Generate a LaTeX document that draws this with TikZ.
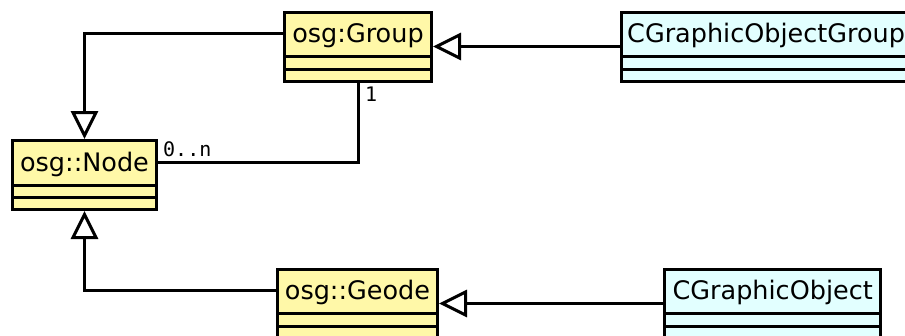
\documentclass[tikz,border=0pt]{standalone}
\usepackage{fontspec}
\setmainfont{DejaVu Sans}
\newfontfamily\umlmono{DejaVu Sans Mono}
\usetikzlibrary{arrows.meta,calc}
\definecolor{clsyellow}{RGB}{255,248,168}
\definecolor{clscyan}{RGB}{226,255,255}
\begin{document}
\begin{tikzpicture}[x=1pt,y=-1pt,
  cls/.style={draw=black, line width=3pt, inner sep=0pt},
  ttl/.style={inner sep=0pt, font=\fontsize{25.5}{30}\selectfont},
  sep/.style={line width=3pt},
  gen/.style={line width=3pt, -{Triangle[fill=white, length=28pt, width=27pt, line width=3pt]}},
  assoc/.style={line width=3pt},
  mult/.style={inner sep=0pt, font=\umlmono\fontsize{20}{24}\selectfont}]
\path[use as bounding box, clip] (0,0) rectangle (905,335);

% classes
\node[cls, fill=clsyellow, minimum width=147pt, minimum height=69pt] (group) at (358,46.5) {};
\node[cls, fill=clscyan, minimum width=292pt, minimum height=69pt] (cgog) at (767.5,46.5) {};
\node[cls, fill=clsyellow, minimum width=144pt, minimum height=69pt] (node) at (84.5,175) {};
\node[cls, fill=clsyellow, minimum width=160pt, minimum height=69pt] (geode) at (357.5,303.5) {};
\node[cls, fill=clscyan, minimum width=216pt, minimum height=69pt] (cgo) at (772.7,303.5) {};

% titles
\node[ttl, anchor=base] (groupT) at ($(group.north)+(0,32)$) {osg:Group};
\node[ttl, anchor=base west] (cgogT) at ($(cgog.north west)+(7,32)$) {CGraphicObjectGroup};
\node[ttl, anchor=base] (nodeT) at ($(node.north)+(0,32)$) {osg::Node};
\node[ttl, anchor=base] (geodeT) at ($(geode.north)+(0,32)$) {osg::Geode};
\node[ttl, anchor=base] (cgoT) at ($(cgo.north)+(0,32)$) {CGraphicObject};

% compartment separators
\foreach \c in {group,cgog,node,geode,cgo}{
  \draw[sep] ($(\c.north west)+(0,46)$) -- ($(\c.north east)+(0,46)$);
  \draw[sep] ($(\c.north west)+(0,58.5)$) -- ($(\c.north east)+(0,58.5)$);
}

% connector start points
\coordinate (gL) at ($(group.north west)+(0,23)$);
\coordinate (eL) at ($(geode.north west)+(0,23)$);
\coordinate (nR) at ($(node.north east)+(0,23)$);

% generalisations
\draw[gen] (gL) -| (node.north);
\draw[gen] (eL) -| (node.south);
\draw[gen] (cgog.west) -- (group.east);
\draw[gen] (cgo.west) -- (geode.east);

% association
\draw[assoc] (nR) -| (group.south);
\node[mult, anchor=base west] (m1) at (163,156) {0..n};
\node[mult, anchor=base west] (m2) at (365,101) {1};
\end{tikzpicture}
\end{document}
